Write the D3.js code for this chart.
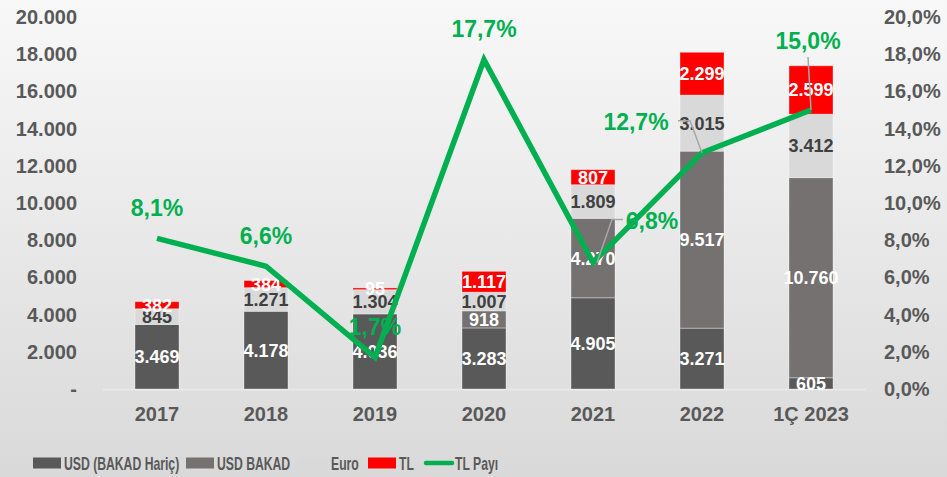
<!DOCTYPE html>
<html><head><meta charset="utf-8">
<script src="https://cdn.jsdelivr.net/npm/d3@7"></script>
<style>html,body{margin:0;padding:0;}svg{display:block;font-family:"Liberation Sans",Arial,sans-serif;}</style>
</head><body>
<svg id="c" width="947" height="477"></svg>
<script>
const categories = ["2017","2018","2019","2020","2021","2022","1Ç 2023"];
const usdExBakad = [3469,4178,4036,3283,4905,3271,605];
const usdBakad   = [0,0,0,918,4270,9517,10760];
const euro       = [845,1271,1304,1007,1809,3015,3412];
const tl         = [382,384,95,1117,807,2299,2599];
const tlShare    = [8.1,6.6,1.7,17.7,6.8,12.7,15.0];
const leftTicks  = [0,2000,4000,6000,8000,10000,12000,14000,16000,18000,20000];
const leftTickLabels = ["-","2.000","4.000","6.000","8.000","10.000","12.000","14.000","16.000","18.000","20.000"];
const rightTicks = [0,2,4,6,8,10,12,14,16,18,20];
const rightTickLabels = ["0,0%","2,0%","4,0%","6,0%","8,0%","10,0%","12,0%","14,0%","16,0%","18,0%","20,0%"];
const seriesNames = ["USD (BAKAD Hariç)","USD BAKAD","Euro","TL","TL Payı"];

const colors = ["#595959","#767171","#d9d9d9","#ff0000"];
const labelColors = ["#ffffff","#ffffff","#404040","#ffffff"];

const svg = d3.select("#c");
const W = 947, H = 477;
const defs = svg.append("defs");
const g = defs.append("linearGradient").attr("id","bg").attr("x1",0).attr("y1",0).attr("x2",0).attr("y2",1);
g.append("stop").attr("offset","0%").attr("stop-color","#f8f8f8");
g.append("stop").attr("offset","100%").attr("stop-color","#d9d9d9");
svg.append("rect").attr("width",W).attr("height",H).attr("fill","url(#bg)");

const x = d3.scaleBand().domain(categories).range([102.5,865.5]).paddingInner(0.5963).paddingOuter(0.5963/2);
const y = d3.scaleLinear().domain([0,20000]).range([389,17]);
const y2 = d3.scaleLinear().domain([0,20]).range([389,17]);

// axis line
svg.append("line").attr("x1",103).attr("x2",866).attr("y1",y(0)+0.5).attr("y2",y(0)+0.5)
  .attr("stroke","#e8e8e8").attr("stroke-width",2);

// left axis
const la = d3.axisLeft(y).tickValues(leftTicks).tickSize(0).tickPadding(0)
  .tickFormat((d,i)=>leftTickLabels[i]);
svg.append("g").attr("transform","translate(77,0)").call(la)
  .call(s=>s.select(".domain").remove())
  .selectAll("text").attr("font-size",20).attr("font-weight","bold").attr("fill","#595959")
  .attr("font-family","'Liberation Sans',Arial,sans-serif");
// right axis
const ra = d3.axisRight(y2).tickValues(rightTicks).tickSize(0).tickPadding(0)
  .tickFormat((d,i)=>rightTickLabels[i]);
svg.append("g").attr("transform","translate(884,0)").call(ra)
  .call(s=>s.select(".domain").remove())
  .selectAll("text").attr("font-size",20).attr("font-weight","bold").attr("fill","#595959")
  .attr("font-family","'Liberation Sans',Arial,sans-serif");
// x axis
const xa = d3.axisBottom(x).tickSize(0).tickPadding(0);
svg.append("g").attr("transform","translate(0,407)").call(xa)
  .call(s=>s.select(".domain").remove())
  .selectAll("text").attr("font-size",20).attr("font-weight","bold").attr("fill","#595959")
  .attr("font-family","'Liberation Sans',Arial,sans-serif");

// stacked data
const rows = categories.map((c,i)=>({cat:c, a:usdExBakad[i], b:usdBakad[i], e:euro[i], t:tl[i]}));
const keys = ["a","b","e","t"];
const stack = d3.stack().keys(keys)(rows);
const fmt = d3.formatLocale({decimal:",",thousands:".",grouping:[3],currency:["",""]}).format(",d");

const layers = svg.append("g").selectAll("g").data(stack).join("g").attr("fill",(d,i)=>colors[i]);
layers.selectAll("rect").data(d=>d.filter(p=>p[1]-p[0]>0)).join("rect")
  .attr("x",d=>x(d.data.cat)).attr("width",x.bandwidth())
  .attr("y",d=>y(d[1])).attr("height",d=>y(d[0])-y(d[1]))
  .attr("stroke","rgba(255,255,255,0.35)").attr("stroke-width",1);

// data labels
stack.forEach((layer,li)=>{
  svg.append("g").selectAll("text").data(layer.filter(p=>p[1]-p[0]>0)).join("text")
    .attr("x",d=>x(d.data.cat)+x.bandwidth()/2)
    .attr("y",d=>(y(d[0])+y(d[1]))/2)
    .attr("dy","0.36em").attr("text-anchor","middle")
    .attr("font-size",18).attr("font-weight","bold").attr("fill",labelColors[li])
    .text(d=>fmt(d[1]-d[0]));
});

// line
const line = d3.line().x((d,i)=>x(categories[i])+x.bandwidth()/2).y(d=>y2(d));
svg.append("path").datum(tlShare).attr("d",line).attr("fill","none")
  .attr("stroke","#00b050").attr("stroke-width",5.5).attr("stroke-linejoin","miter").attr("stroke-linecap","butt");

// line labels (offsets: default above point; some moved with leader lines)
const labelOffset = {4:[59,-42], 5:[-66,-31], 6:[-3,-69]};
const leaders = {
  4:[[30,-43],[19,-43],[4,0]],
  5:[[-24,-32],[-12,-32],[0,0]],
  6:[[-3,-53],[0,0]]
};
tlShare.forEach((v,i)=>{
  const px = x(categories[i])+x.bandwidth()/2, py = y2(v);
  if (leaders[i]) {
    svg.append("path").attr("d", d3.line()(leaders[i].map(p=>[px+p[0],py+p[1]])))
      .attr("fill","none").attr("stroke","#a6a6a6").attr("stroke-width",1.5);
  }
});
svg.append("g").selectAll("text").data(tlShare).join("text")
  .attr("x",(d,i)=>x(categories[i])+x.bandwidth()/2+(labelOffset[i]?labelOffset[i][0]:0))
  .attr("y",(d,i)=>y2(d)+(labelOffset[i]?labelOffset[i][1]:-31))
  .attr("dy","0.36em").attr("text-anchor","middle")
  .attr("font-size",23).attr("font-weight","bold").attr("fill","#00b050")
  .text(d=>d.toFixed(1).replace(".",",")+"%");

// legend
const legX = [33,186,300,368,424];
const legY = 463;
seriesNames.forEach((n,i)=>{
  const lx = legX[i];
  if (i<4) {
    svg.append("rect").attr("x",lx).attr("y",legY-5.5).attr("width",28).attr("height",11).attr("fill",colors[i]);
  } else {
    svg.append("line").attr("x1",lx+2).attr("x2",lx+28).attr("y1",legY).attr("y2",legY)
      .attr("stroke","#00b050").attr("stroke-width",4.5).attr("stroke-linecap","round");
  }
  svg.append("text").attr("transform",`translate(${lx+31},${legY}) scale(0.66,1)`)
    .attr("dy","0.36em").attr("font-size",18.5).attr("font-weight","bold").attr("fill","#595959")
    .text(n);
});
</script>
</body></html>
